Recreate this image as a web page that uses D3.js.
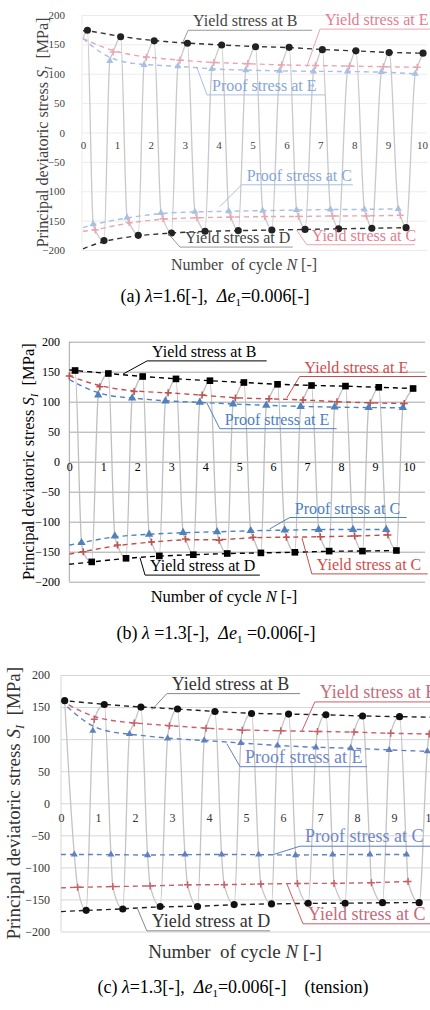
<!DOCTYPE html>
<html>
<head>
<meta charset="utf-8">
<script src="https://cdnjs.cloudflare.com/ajax/libs/d3/7.8.5/d3.min.js"></script>
<style>
body { margin: 0; background: #fff; }
svg { font-family: "Liberation Serif", "Times New Roman", serif; }
text { white-space: pre; }
</style>
</head>
<body>
<script>

// shared ticks and series names
var yTicks = [-200, -150, -100, -50, 0, 50, 100, 150, 200];
var xTicks = [0, 1, 2, 3, 4, 5, 6, 7, 8, 9, 10];
var seriesNames = ["Yield stress at B", "Yield stress at E", "Proof stress at E",
                   "Proof stress at C", "Yield stress at C", "Yield stress at D"];

// (a) lambda = 1.6  -- [cycle N, stress MPa]
var aYieldB = [[0.13,174],[1.11,163],[2.10,156],[3.08,152],[4.09,149],[5.09,146],[6.08,145],[7.06,141],[8.05,139],[9.03,136],[10.03,135]];
var aYieldE = [[0.89,137],[1.87,128],[2.86,123],[3.86,119],[4.86,117],[5.86,115],[6.86,114],[7.86,113],[8.86,112],[9.86,111]];
var aProofE = [[0.79,122],[1.80,115],[2.80,113],[3.80,108],[4.80,106],[5.80,105],[6.80,104],[7.80,104],[8.80,103],[9.80,100]];
var aProofC = [[0.30,-156],[1.30,-145],[2.30,-137],[3.30,-135],[4.30,-134],[5.30,-133],[6.30,-132],[7.30,-131],[8.30,-131],[9.30,-130]];
var aYieldC = [[0.36,-166],[1.36,-153],[2.36,-147],[3.36,-145],[4.36,-144],[5.36,-143],[6.36,-143],[7.36,-142],[8.36,-142],[9.36,-141]];
var aYieldD = [[0.62,-184],[1.63,-175],[2.61,-171],[3.60,-168],[4.58,-167],[5.57,-166],[6.55,-165],[7.54,-164],[8.52,-163],[9.53,-162]];
var aTrendStart = [173, 160, 160, -162, -168, -198];
var aLoopStart = [0, 160];
// label callouts: [underline N from, N to, S level, pointer N, pointer S]
var aCallouts = [[3.10,6.76,174,2.95,154],[6.99,10.3,176,6.6,112],[3.66,7.14,64,3.35,112],
                 [4.68,7.96,-89,4.04,-126],[6.60,9.79,-191,6.3,-166],[2.86,6.19,-195,2.5,-171]];

// (b) lambda = 1.3
var bYieldB = [[0.17,152],[1.15,147],[2.16,142],[3.14,138],[4.14,135],[5.14,132],[6.13,129],[7.13,127],[8.13,126],[9.11,124],[10.12,122]];
var bYieldE = [[0,143],[0.90,125],[1.91,117],[2.91,115],[3.91,111],[4.89,106],[5.88,105],[6.88,103],[7.88,100],[8.86,98],[9.86,97]];
var bProofE = [[0.85,111],[1.85,106],[2.83,101],[3.84,99],[4.82,96],[5.80,94],[6.81,92],[7.81,91],[8.81,90],[9.82,90]];
var bProofC = [[0.36,-135],[1.34,-124],[2.35,-121],[3.35,-118],[4.35,-117],[5.34,-115],[6.34,-114],[7.34,-113],[8.35,-113],[9.33,-113]];
var bYieldC = [[0.41,-150],[1.42,-139],[2.42,-134],[3.42,-129],[4.41,-131],[5.41,-126],[6.39,-126],[7.39,-125],[8.40,-124],[9.38,-122]];
var bYieldD = [[0.66,-167],[1.67,-161],[2.65,-157],[3.65,-155],[4.65,-153],[5.64,-152],[6.64,-151],[7.65,-149],[8.63,-149],[9.63,-148]];
var bTrendStart = [153, null, 137, -139, -154, -171];
var bLoopStart = null;
var bCallouts = [[2.29,5.81,168,1.58,146],[6.78,10.52,142,6.4,106],[4.43,7.87,55,4.05,98],
                 [6.49,9.93,-93,5.9,-112],[7.14,10.55,-187,6.85,-127],[2.23,5.61,-189,2.08,-160]];

// (c) lambda = 1.3, tension
var cYieldB = [[0.10,160],[1.17,154],[2.16,150],[3.15,147],[4.16,143],[5.15,140],[6.15,139],[7.16,138],[8.15,136],[9.15,135],[10.15,134]];
var cYieldE = [[0.90,131],[1.98,125],[2.93,121],[3.92,117],[4.90,114],[5.94,113],[6.93,112],[7.92,111],[8.91,109],[9.95,108]];
var cProofE = [[0.86,113],[1.85,108],[2.88,101],[3.87,98],[4.86,94],[5.85,90],[6.89,87],[7.83,86],[8.87,83],[9.90,81]];
var cProofC = [[0.36,-80],[1.35,-80],[2.34,-81],[3.35,-80],[4.34,-80],[5.34,-80],[6.34,-81],[7.34,-80],[8.35,-80],[9.34,-80]];
var cYieldC = [[0.45,-131],[1.40,-130],[2.41,-129],[3.42,-127],[4.41,-127],[5.40,-126],[6.39,-125],[7.38,-125],[8.39,-124],[9.38,-122]];
var cYieldD = [[0.68,-167],[1.67,-165],[2.68,-161],[3.69,-161],[4.68,-158],[5.69,-157],[6.68,-156],[7.68,-156],[8.69,-155],[9.68,-155]];
var cTrendStart = [160, 160, 160, -80, -132, -169];
var cLoopStart = null;
var cCallouts = [[2.86,6.46,171,2.46,146],[6.86,10.5,158,6.5,111],[4.84,8.27,57,4.48,93],
                 [6.46,10.5,-67,5.74,-80],[6.54,10.5,-188,6.1,-125],[2.32,5.65,-199,2.05,-162]];

var svg = d3.select('body').append('svg').attr('width', 430).attr('height', 1010);

var panels = [
  { series: [aYieldB, aYieldE, aProofE, aProofC, aYieldC, aYieldD], trendStart: aTrendStart,
    loopStart: aLoopStart, callouts: aCallouts, sym: 'circle',
    left: 82, right: 427, x0: 83, x10: 422, top: 15, bottom: 250,
    tickX: 65, tickFont: 11, xTickOff: 17, titleX: 42, xTitleY: 270, xTitleX: 244,
    titleFont: 16, labelFont: 16, capY: 302, capX: 215, cap: ['(a) ', 'λ', '=1.6[-],  ', 'Δe', '1', '=0.006[-]', ''],
    xTitle: 'Number  of cycle ',
    c: { black: '#222', dash: '#333', red: '#eaa6b0', redText: '#e27d90', blue: '#a8c0e4', blueText: '#86a6d8',
         loop: '#c9c9c9', grid: '#ebebeb', text: '#444', lead: '#999' } },
  { series: [bYieldB, bYieldE, bProofE, bProofC, bYieldC, bYieldD], trendStart: bTrendStart,
    loopStart: bLoopStart, callouts: bCallouts, sym: 'square',
    left: 69.3, right: 425, x0: 69.3, x10: 409, top: 341.7, bottom: 581.7,
    tickX: 60, tickFont: 12, xTickOff: 9.5, titleX: 28, xTitleY: 602, xTitleX: 224,
    titleFont: 16.5, labelFont: 16, capY: 639, capX: 216, cap: ['(b) ', 'λ', ' =1.3[-],  ', 'Δe', '1', ' =0.006[-]', ''],
    xTitle: 'Number of cycle ',
    c: { black: '#000', dash: '#000', red: '#c0504d', redText: '#d24b4b', blue: '#4f81bd', blueText: '#4a80c4',
         loop: '#bfbfbf', grid: '#a6a6a6', text: '#000', lead: null } },
  { series: [cYieldB, cYieldE, cProofE, cProofC, cYieldC, cYieldD], trendStart: cTrendStart,
    loopStart: cLoopStart, callouts: cCallouts, sym: 'circle',
    left: 61, right: 440, x0: 61, x10: 431, top: 675, bottom: 931.5,
    tickX: 50, tickFont: 12, xTickOff: 19, titleX: 13, xTitleY: 957.5, xTitleX: 235,
    titleFont: 19, labelFont: 18, capY: 993, capX: 233, cap: ['(c) ', 'λ', '=1.3[-],  ', 'Δe', '1', '=0.006[-]', '    (tension)'],
    xTitle: 'Number  of cycle ',
    c: { black: '#111', dash: '#222', red: '#c8606a', redText: '#c86a7a', blue: '#6080c0', blueText: '#7088c8',
         loop: '#c4c4c4', grid: '#d6d6d6', text: '#333', lead: '#888' } }
];

// series index -> colour key and marker kind
var kinds = [['black','dot'],['red','plus'],['blue','tri'],['blue','tri'],['red','plus'],['black','dot']];

panels.forEach(function(p) {
  var g = svg.append('g');
  var x = d3.scaleLinear().domain([0, 10]).range([p.x0, p.x10]);
  var y = d3.scaleLinear().domain([-200, 200]).range([p.bottom, p.top]);
  var col = p.c;

  // horizontal grid
  var grid = g.append('g').attr('transform', 'translate(' + p.left + ',0)')
    .call(d3.axisLeft(y).tickValues(yTicks).tickSize(-(p.right - p.left)).tickFormat(''));
  grid.select('.domain').remove();
  grid.selectAll('line').attr('stroke', col.grid);
  g.append('line').attr('x1', p.left).attr('x2', p.left).attr('y1', y(200)).attr('y2', y(-200))
    .attr('stroke', col.grid);

  // y tick labels
  var ya = g.append('g').attr('transform', 'translate(' + p.tickX + ',0)')
    .call(d3.axisLeft(y).tickValues(yTicks).tickSize(0).tickPadding(0));
  ya.select('.domain').remove();
  ya.selectAll('text').attr('font-family', 'Liberation Serif').attr('font-size', p.tickFont)
    .attr('fill', col.text).attr('text-anchor', 'end');

  // x tick labels just under zero line
  var xa = g.append('g').attr('transform', 'translate(0,' + (y(0) + p.xTickOff - p.tickFont * 0.75) + ')')
    .call(d3.axisBottom(x).tickValues(xTicks).tickSize(0).tickPadding(0));
  xa.select('.domain').remove();
  xa.selectAll('text').attr('font-family', 'Liberation Serif').attr('font-size', p.tickFont)
    .attr('fill', col.text);

  // stress path through all the points in order of cycle
  var all = [];
  if (p.loopStart) all.push(p.loopStart);
  p.series.forEach(function(s) { all = all.concat(s); });
  all.sort(function(a, b) { return a[0] - b[0]; });
  var line = d3.line().x(function(d) { return x(d[0]); }).y(function(d) { return y(d[1]); });
  g.append('path').datum(all)
    .attr('d', line.curve(d3.curveMonotoneX))
    .attr('fill', 'none').attr('stroke', col.loop).attr('stroke-width', 1.3);

  // dashed trend lines
  p.series.forEach(function(s, i) {
    var pts = (p.trendStart[i] !== null ? [[0, p.trendStart[i]]] : []).concat(s);
    var k = kinds[i][0];
    g.append('path').datum(pts)
      .attr('d', d3.line().x(function(d) { return x(d[0]); }).y(function(d) { return y(d[1]); })
        .curve(d3.curveBasis))
      .attr('fill', 'none')
      .attr('stroke', k == 'black' ? col.dash : col[k])
      .attr('stroke-width', 1.4)
      .attr('stroke-dasharray', '5,4');
  });

  // markers
  p.series.forEach(function(s, i) {
    var k = kinds[i][0], m = kinds[i][1];
    var sel = g.append('g').selectAll('path').data(s).enter().append('path')
      .attr('transform', function(d) { return 'translate(' + x(d[0]) + ',' + y(d[1]) + ')'; });
    if (m == 'dot') {
      sel.attr('d', d3.symbol().type(p.sym == 'square' ? d3.symbolSquare : d3.symbolCircle)
        .size(p.sym == 'square' ? 44 : 40)).attr('fill', col.black);
    } else if (m == 'plus') {
      sel.attr('d', 'M-3.5,0H3.5M0,-3.5V3.5').attr('stroke', col[k]).attr('stroke-width', 1.5);
    } else {
      sel.attr('d', d3.symbol().type(d3.symbolTriangle).size(p.sym == 'square' ? 30 : 22))
        .attr('fill', col[k]);
    }
  });

  // callout labels
  p.callouts.forEach(function(cl, i) {
    var k = kinds[i][0];
    var tc = k == 'black' ? col.text : col[k + 'Text'];
    var lc = col.lead ? (k == 'black' ? col.lead : col[k]) : (k == 'black' ? '#000' : col[k]);
    var uy = y(cl[2]);
    g.append('line').attr('x1', x(cl[0])).attr('x2', x(cl[1])).attr('y1', uy).attr('y2', uy)
      .attr('stroke', lc).attr('stroke-width', 1);
    g.append('line').attr('x1', x(cl[0])).attr('y1', uy).attr('x2', x(cl[3])).attr('y2', y(cl[4]))
      .attr('stroke', lc).attr('stroke-width', 1);
    g.append('text').attr('x', x(cl[0]) + 5).attr('y', uy - 4)
      .attr('font-size', p.labelFont).attr('fill', tc).text(seriesNames[i]);
  });

  // axis titles
  var yt = g.append('text').attr('transform', 'translate(' + p.titleX + ',' + y(0) + ') rotate(-90)')
    .attr('text-anchor', 'middle').attr('dy', '0.35em').attr('font-size', p.titleFont).attr('fill', col.text);
  yt.append('tspan').text('Principal deviatoric stress ');
  yt.append('tspan').attr('font-style', 'italic').text('S');
  yt.append('tspan').attr('font-style', 'italic').attr('font-size', p.titleFont * 0.65).attr('dy', 4).text('I');
  yt.append('tspan').attr('dy', -4).text('  [MPa]');

  var xt = g.append('text').attr('x', p.xTitleX).attr('y', p.xTitleY).attr('text-anchor', 'middle')
    .attr('font-size', p.titleFont).attr('fill', col.text);
  xt.append('tspan').text(p.xTitle);
  xt.append('tspan').attr('font-style', 'italic').text('N');
  xt.append('tspan').text(' [-]');

  // caption
  var cap = svg.append('text').attr('x', p.capX).attr('y', p.capY).attr('text-anchor', 'middle')
    .attr('font-size', 18).attr('fill', '#000');
  cap.append('tspan').text(p.cap[0]);
  cap.append('tspan').attr('font-style', 'italic').text(p.cap[1]);
  cap.append('tspan').text(p.cap[2]);
  cap.append('tspan').attr('font-style', 'italic').text(p.cap[3]);
  cap.append('tspan').attr('font-size', 11).attr('dy', 4).text(p.cap[4]);
  cap.append('tspan').attr('dy', -4).text(p.cap[5]);
  if (p.cap[6]) cap.append('tspan').text(p.cap[6]);
});

</script>
</body>
</html>
